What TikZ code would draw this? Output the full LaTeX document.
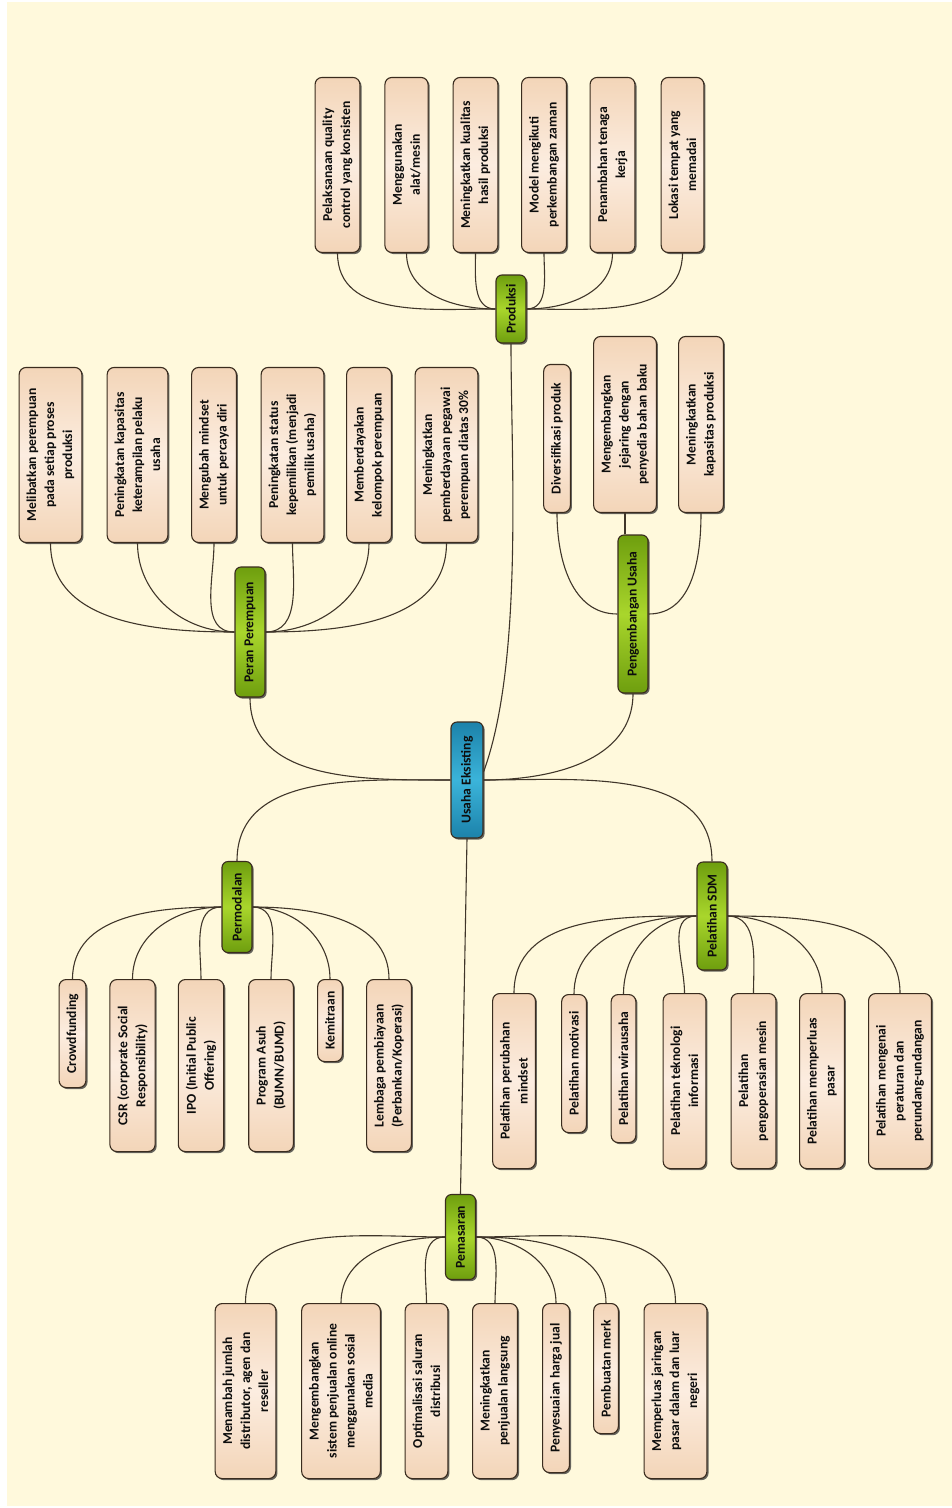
\documentclass[tikz,border=0pt]{standalone}
\usepackage{fontspec}
\setmainfont{Carlito}[BoldFont={Carlito Bold}]
\usetikzlibrary{shadows,calc}
\definecolor{bgcream}{HTML}{FFF9DC}
\definecolor{peachedge}{HTML}{F3D5B8}
\definecolor{peachmid}{HTML}{FCEDE0}
\definecolor{greenedge}{HTML}{6E9E0E}
\definecolor{greenmid}{HTML}{A9D62C}
\definecolor{blueedge}{HTML}{1C82AA}
\definecolor{bluemid}{HTML}{3BB4DA}
\definecolor{outline}{HTML}{3A2C1E}
\definecolor{linkc}{HTML}{40362A}
\tikzset{
  boxbase/.style={rotate=90, draw=outline, line width=1.1pt, align=center,
     font=\bfseries\fontsize{13.6}{18}\selectfont, text=black!95,
     drop shadow={shadow xshift=1.6pt, shadow yshift=-1.6pt, fill=black!80, opacity=.75}},
  leaf/.style={boxbase, rounded corners=7pt, top color=peachedge, bottom color=peachedge,
     middle color=peachmid, inner xsep=3pt, inner ysep=7.5pt, minimum width=175pt},
  hub/.style={boxbase, rounded corners=6pt, top color=greenedge, bottom color=greenedge,
     middle color=greenmid, inner xsep=3pt, inner ysep=7pt, minimum height=30pt},
  root/.style={boxbase, rounded corners=6pt, top color=blueedge, bottom color=blueedge,
     middle color=bluemid, minimum height=32pt, minimum width=116pt},
  link/.style={draw=linkc, line width=1.1pt},
}
\begin{document}
\begin{tikzpicture}[x=1pt,y=1pt]
\useasboundingbox (0,0) rectangle (952,-1508);
\fill[white] (0,0) rectangle (952,-1508);
\fill[bgcream] (7,-2) rectangle (952,-1506);

% centre
\node[root] (root) at (467,-780) {Usaha Eksisting};

% Produksi
\node[hub, minimum width=68pt] (prod) at (511,-309) {Produksi};
\node[leaf, anchor=west] (pr1) at (337.5,-253) {Pelaksanaan quality\\control yang konsisten};
\node[leaf, anchor=west] (pr2) at (406.5,-253) {Menggunakan\\alat/mesin};
\node[leaf, anchor=west] (pr3) at (475.5,-253) {Meningkatkan kualitas\\hasil produksi};
\node[leaf, anchor=west] (pr4) at (544,-253) {Model mengikuti\\perkembangan zaman};
\node[leaf, anchor=west] (pr5) at (612.5,-253) {Penambahan tenaga\\kerja};
\node[leaf, anchor=west] (pr6) at (682.5,-253) {Lokasi tempat yang\\memadai};
\foreach \n in {pr1,pr2,pr3} \draw[link] (prod.north) to[out=180,in=-90] (\n.west);
\foreach \n in {pr4,pr5,pr6} \draw[link] (prod.south) to[out=0,in=-90] (\n.west);

% Peran Perempuan
\node[hub, minimum width=130pt] (peran) at (250,-632) {Peran Perempuan};
\node[leaf, anchor=west] (pp1) at (50.5,-543) {Melibatkan perempuan\\pada setiap proses\\produksi};
\node[leaf, anchor=west] (pp2) at (137.5,-543) {Peningkatan kapasitas\\keterampilan pelaku\\usaha};
\node[leaf, anchor=west] (pp3) at (214,-543) {Mengubah mindset\\untuk percaya diri};
\node[leaf, anchor=west] (pp4) at (292.5,-543) {Peningkatan status\\kepemilikan (menjadi\\pemilik usaha)};
\node[leaf, anchor=west] (pp5) at (369,-543) {Memberdayakan\\kelompok perempuan};
\node[leaf, anchor=west] (pp6) at (446.5,-543) {Meningkatkan\\pemberdayaan pegawai\\perempuan diatas 30\%};
\foreach \n in {pp1,pp2,pp3} \draw[link] (peran.north) to[out=180,in=-90] (\n.west);
\foreach \n in {pp4,pp5,pp6} \draw[link] (peran.south) to[out=0,in=-90] (\n.west);

% Pengembangan Usaha
\node[hub, minimum width=158pt] (peng) at (633,-614) {Pengembangan Usaha};
\node[leaf, anchor=west, minimum width=148pt] (pu1) at (557,-513) {Diversifikasi produk};
\node[leaf, anchor=west, minimum width=176pt] (pu2) at (625,-513) {Mengembangkan\\jejaring dengan\\penyedia bahan baku};
\node[leaf, anchor=west, minimum width=176pt] (pu3) at (701,-513) {Meningkatkan\\kapasitas produksi};
\draw[link] (peng.north) to[out=180,in=-90] (pu1.west);
\draw[link] (pu2.west) -- (pu2.west |- peng.east);
\draw[link] (peng.south) to[out=0,in=-90] (pu3.west);

% Permodalan
\node[hub, minimum width=91pt] (modal) at (237,-907) {Permodalan};
\node[leaf, anchor=east, minimum width=108pt] (pm1) at (72.5,-979) {Crowdfunding};
\node[leaf, anchor=east, minimum width=172pt] (pm2) at (132.5,-979) {CSR (corporate Social\\Responsibility)};
\node[leaf, anchor=east, minimum width=172pt] (pm3) at (201,-979) {IPO (Initial Public\\Offering)};
\node[leaf, anchor=east, minimum width=172pt] (pm4) at (271,-979) {Program Asuh\\(BUMN/BUMD)};
\node[leaf, anchor=east, minimum width=82pt] (pm5) at (330,-979) {Kemitraan};
\node[leaf, anchor=east, minimum width=172pt] (pm6) at (389,-979) {Lembaga pembiayaan\\(Perbankan/Koperasi)};
\foreach \n in {pm1,pm2,pm3} \draw[link] (modal.north) to[out=180,in=90] (\n.east);
\foreach \n in {pm4,pm5,pm6} \draw[link] (modal.south) to[out=0,in=90] (\n.east);

% Pelatihan SDM
\node[hub, minimum width=108pt] (sdm) at (712,-916) {Pelatihan SDM};
\node[leaf, anchor=east] (sd1) at (514,-993) {Pelatihan perubahan\\mindset};
\node[leaf, anchor=east, minimum width=138pt] (sd2) at (574,-994) {Pelatihan motivasi};
\node[leaf, anchor=east, minimum width=148pt] (sd3) at (623.5,-994) {Pelatihan wirausaha};
\node[leaf, anchor=east] (sd4) at (684.5,-993) {Pelatihan teknologi\\informasi};
\node[leaf, anchor=east] (sd5) at (753.5,-993) {Pelatihan\\pengoperasian mesin};
\node[leaf, anchor=east] (sd6) at (822,-993) {Pelatihan memperluas\\pasar};
\node[leaf, anchor=east] (sd7) at (900,-993) {Pelatihan mengenai\\peraturan dan\\perundang-undangan};
\foreach \n in {sd1,sd2,sd3,sd4} \draw[link] (sdm.north) to[out=180,in=90] (\n.east);
\foreach \n in {sd5,sd6,sd7} \draw[link] (sdm.south) to[out=0,in=90] (\n.east);

% Pemasaran
\node[hub, minimum width=85pt] (pasar) at (460.5,-1237) {Pemasaran};
\node[leaf, anchor=east] (ps1) at (245.5,-1303) {Menambah jumlah\\distributor, agen dan\\reseller};
\node[leaf, anchor=east] (ps2) at (341,-1303) {Mengembangkan\\sistem penjualan online\\menggunakan sosial\\media};
\node[leaf, anchor=east] (ps3) at (426.5,-1303) {Optimalisasi saluran\\distribusi};
\node[leaf, anchor=east] (ps4) at (495,-1303) {Meningkatkan\\penjualan langsung};
\node[leaf, anchor=east, minimum width=169pt] (ps5) at (556,-1303) {Penyesuaian harga jual};
\node[leaf, anchor=east, minimum width=130pt] (ps6) at (606,-1303) {Pembuatan merk};
\node[leaf, anchor=east] (ps7) at (675.5,-1303) {Memperluas jaringan\\pasar dalam dan luar\\negeri};
\foreach \n in {ps1,ps2,ps3} \draw[link] (pasar.north) to[out=180,in=90] (\n.east);
\foreach \n in {ps4,ps5,ps6,ps7} \draw[link] (pasar.south) to[out=0,in=90] (\n.east);

% main branches
\draw[link] (root.north) to[out=180,in=-90] (peran.west);
\draw[link] (root.north) to[out=180,in=90] (modal.east);
\draw[link] (root.south) to[out=0,in=-90] (peng.west);
\draw[link] (root.south) to[out=0,in=90] (sdm.east);
\draw[link] (prod.west) to[out=-90,in=70,looseness=0.7] ($(root.south)+(0,8)$);
\draw[link] (root.west) -- (pasar.east);
\end{tikzpicture}
\end{document}
